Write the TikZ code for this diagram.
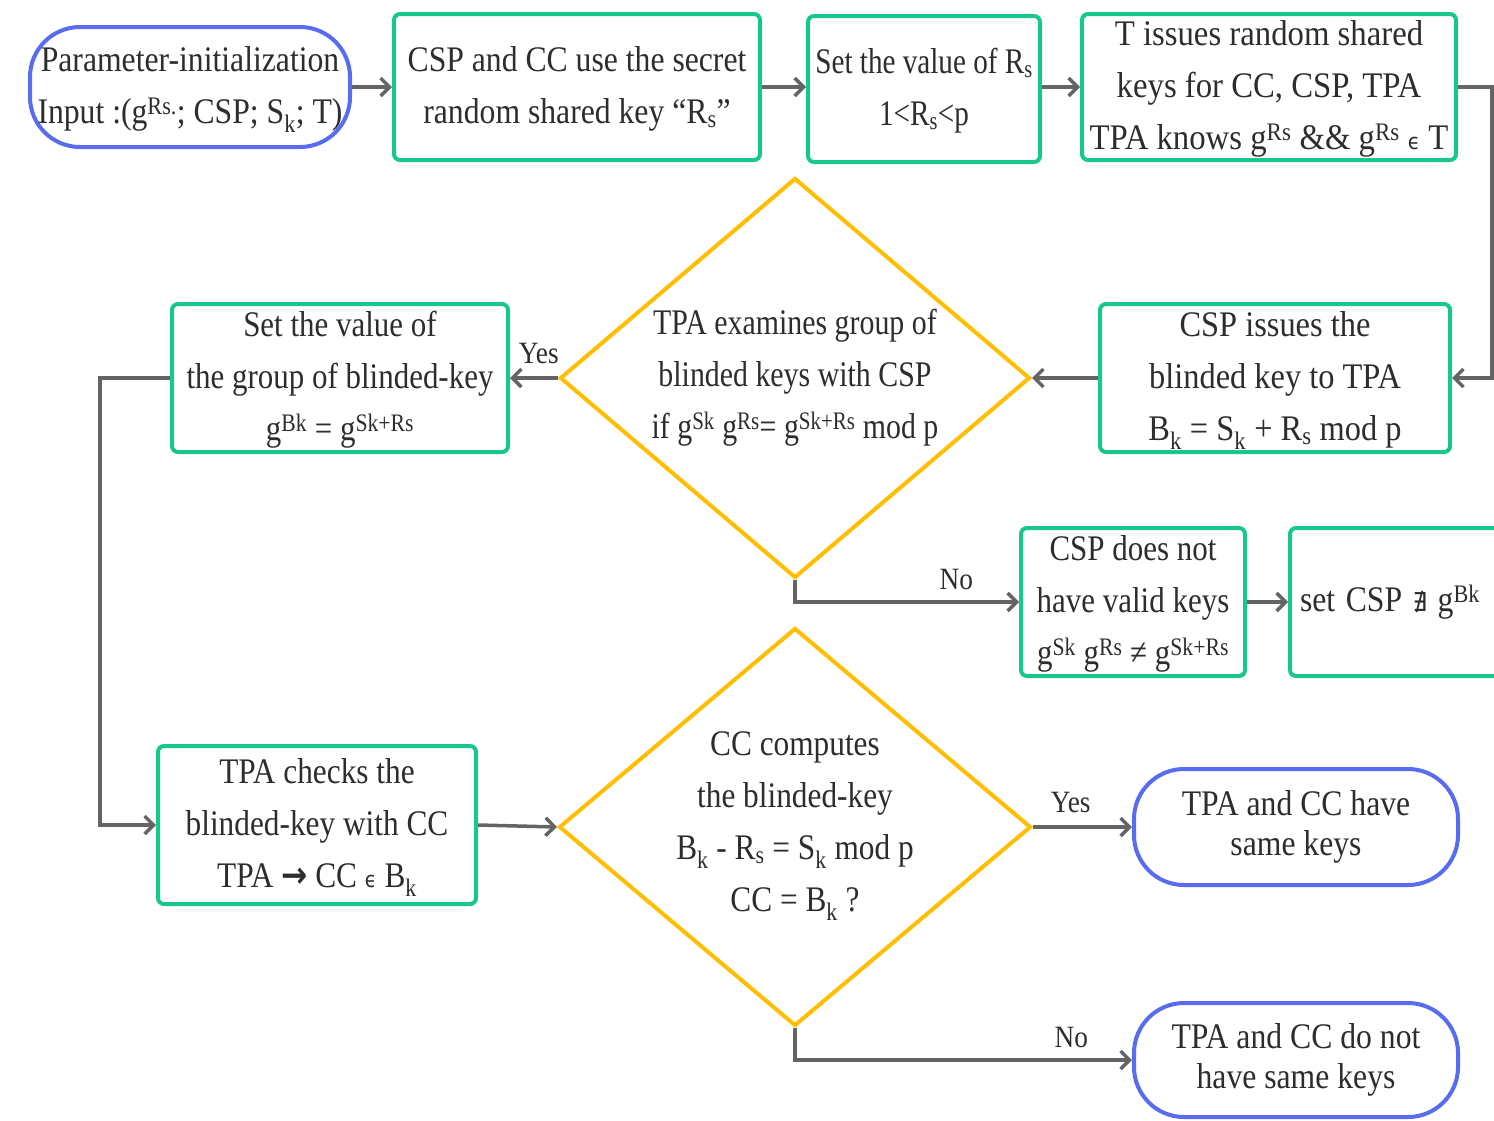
\documentclass[tikz,border=0pt]{standalone}
\usepackage{fontspec}
\usepackage{graphicx}
\setmainfont{Liberation Serif}
\newfontfamily\symfont{DejaVu Sans}
\usetikzlibrary{arrows.meta,shapes.geometric}
\definecolor{bblue}{RGB}{88,108,240}
\definecolor{bgreen}{RGB}{24,200,138}
\definecolor{borange}{RGB}{255,190,0}
\definecolor{lgray}{RGB}{100,100,100}
\definecolor{tgray}{RGB}{45,45,45}
\newcommand{\sps}[1]{\textsuperscript{#1}}
\newcommand{\sbs}[1]{\textsubscript{#1}}
\newcommand{\elem}{{\symfont\fontsize{22}{22}\selectfont ϵ}}
\newcommand{\cond}[2][0.88]{\scalebox{#1}[1]{\begin{tabular}{@{}c@{}}#2\end{tabular}}}
\begin{document}
\begin{tikzpicture}[x=1pt,y=-1pt,
  every node/.style={text=tgray, font=\fontsize{36}{52}\selectfont, align=center, inner sep=0pt},
  procbox/.style={draw=bgreen, line width=4pt, rounded corners=6pt, fill=white, inner ysep=-14pt},
  termbox/.style={draw=bblue, line width=4pt, rounded corners=50pt, fill=white, inner ysep=-14pt},
  decbox/.style={draw=borange, line width=4pt, diamond, fill=white},
  flow/.style={draw=lgray, line width=3.5pt, -{Straight Barb[length=9pt,width=18pt]}},
  lbl/.style={font=\fontsize{31}{34}\selectfont},
  tight/.style={font=\fontsize{36}{40}\selectfont}]
\useasboundingbox (0,0) rectangle (1494,1120);
\clip (0,0) rectangle (1494,1120);

% top row
\node[termbox, minimum width=320pt, minimum height=120pt] (n1) at (190,87)
  {\cond{Parameter-initialization\\Input :(g\sps{Rs.}; CSP; S\sbs{k}; T)}};
\node[procbox, minimum width=366pt, minimum height=146pt] (n2) at (577,87)
  {\cond{CSP and CC use the secret\\random shared key “R\sbs{s}”}};
\node[procbox, minimum width=232pt, minimum height=146pt] (n3) at (924,89)
  {\cond[0.81]{Set the value of R\sbs{s}\\1<R\sbs{s}<p}};
\node[procbox, minimum width=374pt, minimum height=146pt] (n4) at (1269,87)
  {\cond[0.91]{T issues random shared\\keys for CC, CSP, TPA\\TPA knows g\sps{Rs} \&\& g\sps{Rs} \elem{} T}};

% middle row
\node[procbox, minimum width=350pt, minimum height=148pt] (n5) at (1275,378)
  {\cond[0.9]{CSP issues the\\blinded key to TPA\\B\sbs{k} = S\sbs{k} + R\sbs{s} mod p}};
\node[decbox, minimum width=470pt, minimum height=400pt] (d1) at (795,378) {};
\node (d1t) at (795,376) {\cond[0.83]{TPA examines group of\\blinded keys with CSP\\if g\sps{Sk} g\sps{Rs}= g\sps{Sk+Rs} mod p}};
\node[procbox, minimum width=336pt, minimum height=148pt] (n6) at (340,378)
  {\cond[0.86]{Set the value of\\the group of blinded-key\\g\sps{Bk} = g\sps{Sk+Rs}}};

\node[procbox, minimum width=224pt, minimum height=148pt] (n8) at (1133,602)
  {\cond[0.86]{CSP does not\\have valid keys\\g\sps{Sk} g\sps{Rs} ≠ g\sps{Sk+Rs}}};
\node[procbox, minimum width=260pt, minimum height=148pt, text width=240pt, align=left] (n9) at (1420,602)
  {\scalebox{0.88}[1]{set CSP {\symfont\fontsize{26}{26}\selectfont ∄} g\sps{Bk}}};

% bottom row
\node[procbox, minimum width=318pt, minimum height=158pt] (n7) at (317,825)
  {\cond[0.87]{TPA checks the\\blinded-key with CC\\TPA {\symfont\bfseries →} CC \elem{} B\sbs{k}}};
\node[decbox, minimum width=472pt, minimum height=398pt] (d2) at (795,827) {};
\node (d2t) at (795,823) {\cond[0.87]{CC computes\\the blinded-key\\B\sbs{k} - R\sbs{s} = S\sbs{k} mod p\\CC = B\sbs{k} ?}};
\node[termbox, tight, minimum width=324pt, minimum height=116pt] (n10) at (1296,827)
  {\cond{TPA and CC have\\same keys}};
\node[termbox, tight, minimum width=324pt, minimum height=114pt] (n11) at (1296,1060)
  {\cond{TPA and CC do not\\have same keys}};

% connectors
\draw[flow] (n1.east) -- (n2.west);
\draw[flow] (n2.east) -- (n3.west |- n2.east);
\draw[flow] (n3.east |- n2.east) -- (n4.west |- n2.east);
\draw[flow] (n4.east) -- ++(34,0) |- (n5.east);
\draw[flow] (n5.west) -- (d1.east);
\draw[flow] (d1.west) -- (n6.east) node[lbl, pos=0.4, above=12pt] (ly1) {\scalebox{0.88}[1]{Yes}};
\draw[flow] (n6.west) -- ++(-70,0) |- (n7.west);
\draw[flow] (d1.south) |- (n8.west) node[lbl, pos=0.86, above=10pt] (ln1) {\scalebox{0.88}[1]{No}};
\draw[flow] (n8.east) -- (n9.west);
\draw[flow] (n7.east) -- (d2.west);
\draw[flow] (d2.east) -- (n10.west) node[lbl, pos=0.38, above=12pt] (ly2) {\scalebox{0.88}[1]{Yes}};
\draw[flow] (d2.south) |- (n11.west) node[lbl, pos=0.91, above=10pt] (ln2) {\scalebox{0.88}[1]{No}};
\end{tikzpicture}
\end{document}
